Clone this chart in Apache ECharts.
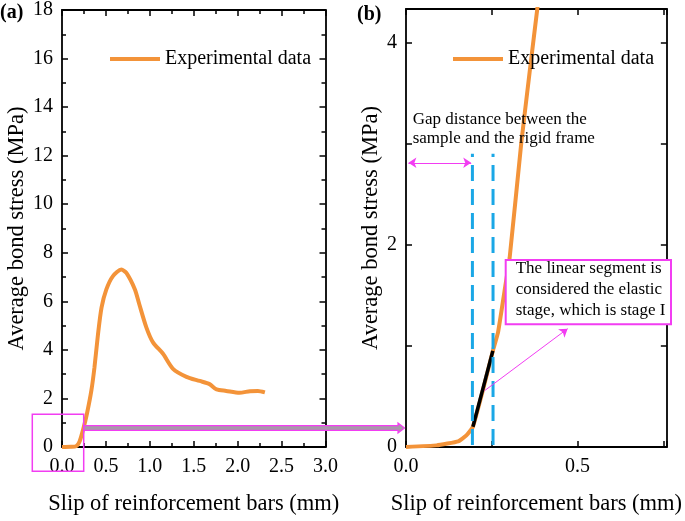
<!DOCTYPE html>
<html><head><meta charset="utf-8">
<script src="https://cdn.jsdelivr.net/npm/echarts@6/dist/echarts.min.js"></script>
<style>html,body{margin:0;padding:0;background:#fff}#c{width:685px;height:521px}</style>
</head><body><div id="c"></div>
<script>
// ---- data ----
const slipA   = [0, 0.10, 0.16, 0.20, 0.24, 0.285, 0.335, 0.37, 0.41, 0.45, 0.505, 0.58, 0.676, 0.733, 0.83, 0.88, 0.96, 1.036, 1.15, 1.264, 1.417, 1.568, 1.68, 1.76, 1.87, 2.02, 2.14, 2.23, 2.31];
const stressA = [0, 0.01, 0.03, 0.23, 0.71, 1.39, 2.34, 3.29, 4.65, 5.74, 6.49, 7.04, 7.31, 7.17, 6.49, 5.88, 4.93, 4.31, 3.84, 3.22, 2.89, 2.72, 2.59, 2.37, 2.31, 2.23, 2.30, 2.31, 2.25];
const slipB   = [0, 0.089, 0.152, 0.176, 0.195, 0.224, 0.253, 0.268, 0.287, 0.302, 0.336, 0.36, 0.385];
const stressB = [0, 0.016, 0.056, 0.115, 0.20, 0.56, 0.95, 1.13, 1.54, 1.87, 3.01, 3.70, 4.40];
const linearSlip   = [0.195, 0.253];
const linearStress = [0.20, 0.95];
const gapLineSlip   = [0.1935, 0.2536];
const gapLineStress = [0.02, 2.90];
const gapArrowSlip   = [0.007, 0.190];
const gapArrowStress = [2.81, 2.81];
const pointerSlip   = [0.229, 0.471];
const pointerStress = [0.557, 1.17];
const xTickLabelsA = ['0.0','0.5','1.0','1.5','2.0','2.5','3.0'];
const yTickLabelsA = ['0','2','4','6','8','10','12','14','16','18'];
const xTickLabelsB = ['0.0','0.5'];
const yTickLabelsB = ['0','2','4'];
const seriesName = 'Experimental data';
const xTitle = 'Slip of reinforcement bars (mm)';
const yTitle = 'Average bond stress (MPa)';

const FONT = "'Liberation Serif','Times New Roman',serif";
const ORANGE = '#F39339';
const MAG = '#F23DF2';
const BLUE = '#1AA7E6';

const chart = echarts.init(document.getElementById('c'), null, {renderer:'canvas'});

function fmt(labels, digits){
  return function(v){
    const s = digits ? v.toFixed(digits) : String(Math.round(v*1000)/1000);
    return labels.indexOf(s) >= 0 && Math.abs(parseFloat(s)-v) < 1e-6 ? s : '';
  };
}
function axis(kind, gridIndex, pos, min, max, interval, minorSplit, labels, digits, name, nameGap){
  const a = {
    type:'value', gridIndex, position:pos, min, max, interval,
    splitLine:{show:false},
    axisLine:{show:true, onZero:false, lineStyle:{color:'#000', width:1.8}},
    axisTick:{show:true, inside:true, length:6, lineStyle:{color:'#000', width:1.5}},
    minorTick:{show: minorSplit>0, splitNumber: minorSplit||5, length:4, lineStyle:{color:'#000', width:1.5}},
    axisLabel:{show: !!labels, formatter: labels ? fmt(labels, digits) : '', color:'#000', fontFamily:FONT, fontSize:20, margin: kind==='x'?10:9, showMaxLabel:true, showMinLabel:true, hideOverlap:false},
  };
  if (name){
    a.name = name; a.nameLocation = 'middle'; a.nameGap = nameGap;
    a.nameTextStyle = {fontFamily:FONT, fontSize:22.5, color:'#000'};
  }
  return a;
}

const option = {
  animation:false,
  backgroundColor:'#fff',
  grid:[
    {left:62, top:9.5, width:263.5, height:441},
    {left:406, top:9, width:262.5, height:441}
  ],
  xAxis:[
    axis('x',0,'bottom',0,3,0.5,2,xTickLabelsA,1,xTitle,46),
    axis('x',0,'top',0,3,0.5,2,null),
    axis('x',1,'bottom',0,0.76,0.25,0,xTickLabelsB,1,xTitle,46),
    axis('x',1,'top',0,0.76,0.25,0,null)
  ],
  yAxis:[
    axis('y',0,'left',0,18,2,2,yTickLabelsA,0,yTitle,33),
    axis('y',0,'right',0,18,2,2,null),
    axis('y',1,'left',0,4.33,1,0,yTickLabelsB,0,yTitle,23),
    axis('y',1,'right',0,4.33,1,0,null)
  ],
  legend:[
    {left:110, top:49, padding:0, data:[seriesName], icon:'rect', itemWidth:50, itemHeight:4, selectedMode:false,
     textStyle:{fontFamily:FONT, fontSize:20, color:'#000'}},
    {left:453, top:49, padding:0, data:[seriesName], icon:'rect', itemWidth:50, itemHeight:4, selectedMode:false,
     textStyle:{fontFamily:FONT, fontSize:20, color:'#000'}}
  ],
  series:[
    {name:seriesName, type:'line', xAxisIndex:0, yAxisIndex:0, showSymbol:false, smooth:0.25,
     data: slipA.map((x,i)=>[x, stressA[i]]), lineStyle:{color:ORANGE, width:4}, itemStyle:{color:ORANGE}, z:3},
    {name:seriesName, type:'line', xAxisIndex:2, yAxisIndex:2, showSymbol:false, smooth:0.12,
     data: slipB.map((x,i)=>[x, stressB[i]]), lineStyle:{color:ORANGE, width:4}, itemStyle:{color:ORANGE}, z:3},
    {type:'line', xAxisIndex:2, yAxisIndex:2, showSymbol:false,
     data: linearSlip.map((x,i)=>[x, linearStress[i]]), lineStyle:{color:'#000', width:3.5}, z:4},
    {type:'line', xAxisIndex:2, yAxisIndex:2, showSymbol:false,
     data: gapLineStress.map(y=>[gapLineSlip[0], y]), lineStyle:{color:BLUE, width:3, type:[16,8]}, z:5},
    {type:'line', xAxisIndex:2, yAxisIndex:2, showSymbol:false,
     data: gapLineStress.map(y=>[gapLineSlip[1], y]), lineStyle:{color:BLUE, width:3, type:[16,8]}, z:5},
    {type:'lines', coordinateSystem:'cartesian2d', xAxisIndex:2, yAxisIndex:2, symbol:['arrow','arrow'], symbolSize:8,
     lineStyle:{color:MAG, width:1.2, opacity:1}, z:6,
     data:[{coords: gapArrowSlip.map((x,i)=>[x, gapArrowStress[i]])}]},
    {type:'lines', coordinateSystem:'cartesian2d', xAxisIndex:2, yAxisIndex:2, symbol:['none','arrow'], symbolSize:8,
     lineStyle:{color:MAG, width:1, opacity:1}, z:6,
     data:[{coords: pointerSlip.map((x,i)=>[x, pointerStress[i]])}]}
  ],
  graphic:[
    {type:'text', z:100, style:{text:'(a)', x:0, y:13, font:"bold 20px "+FONT, fill:'#000', textVerticalAlign:'middle'}},
    {type:'text', z:100, style:{text:'(b)', x:357, y:15, font:"bold 20px "+FONT, fill:'#000', textVerticalAlign:'middle'}},
    {type:'rect', z:100, shape:{x:32.3, y:414.3, width:51.4, height:57}, style:{fill:'none', stroke:MAG, lineWidth:1.5}},
    {type:'polygon', z:100, shape:{points:[[84,425.7],[398,425.7],[398,423],[404.5,428],[398,433],[398,430.3],[84,430.3]]},
     style:{fill:'#A898AA', stroke:MAG, lineWidth:1.2}},
    {type:'text', z:100, style:{text:'Gap distance between the\nsample and the rigid frame', x:412.7, y:110, font:"17px "+FONT, fill:'#000', lineHeight:19}},
    {type:'rect', z:100, shape:{x:505.7, y:260, width:165.3, height:64.3}, style:{fill:'#fff', stroke:MAG, lineWidth:2}},
    {type:'text', z:101, style:{text:'The linear segment is\nconsidered the elastic\nstage, which is stage I', x:515.7, y:258, font:"17px "+FONT, fill:'#000', lineHeight:21}}
  ]
};
chart.setOption(option);
</script>
</body></html>
